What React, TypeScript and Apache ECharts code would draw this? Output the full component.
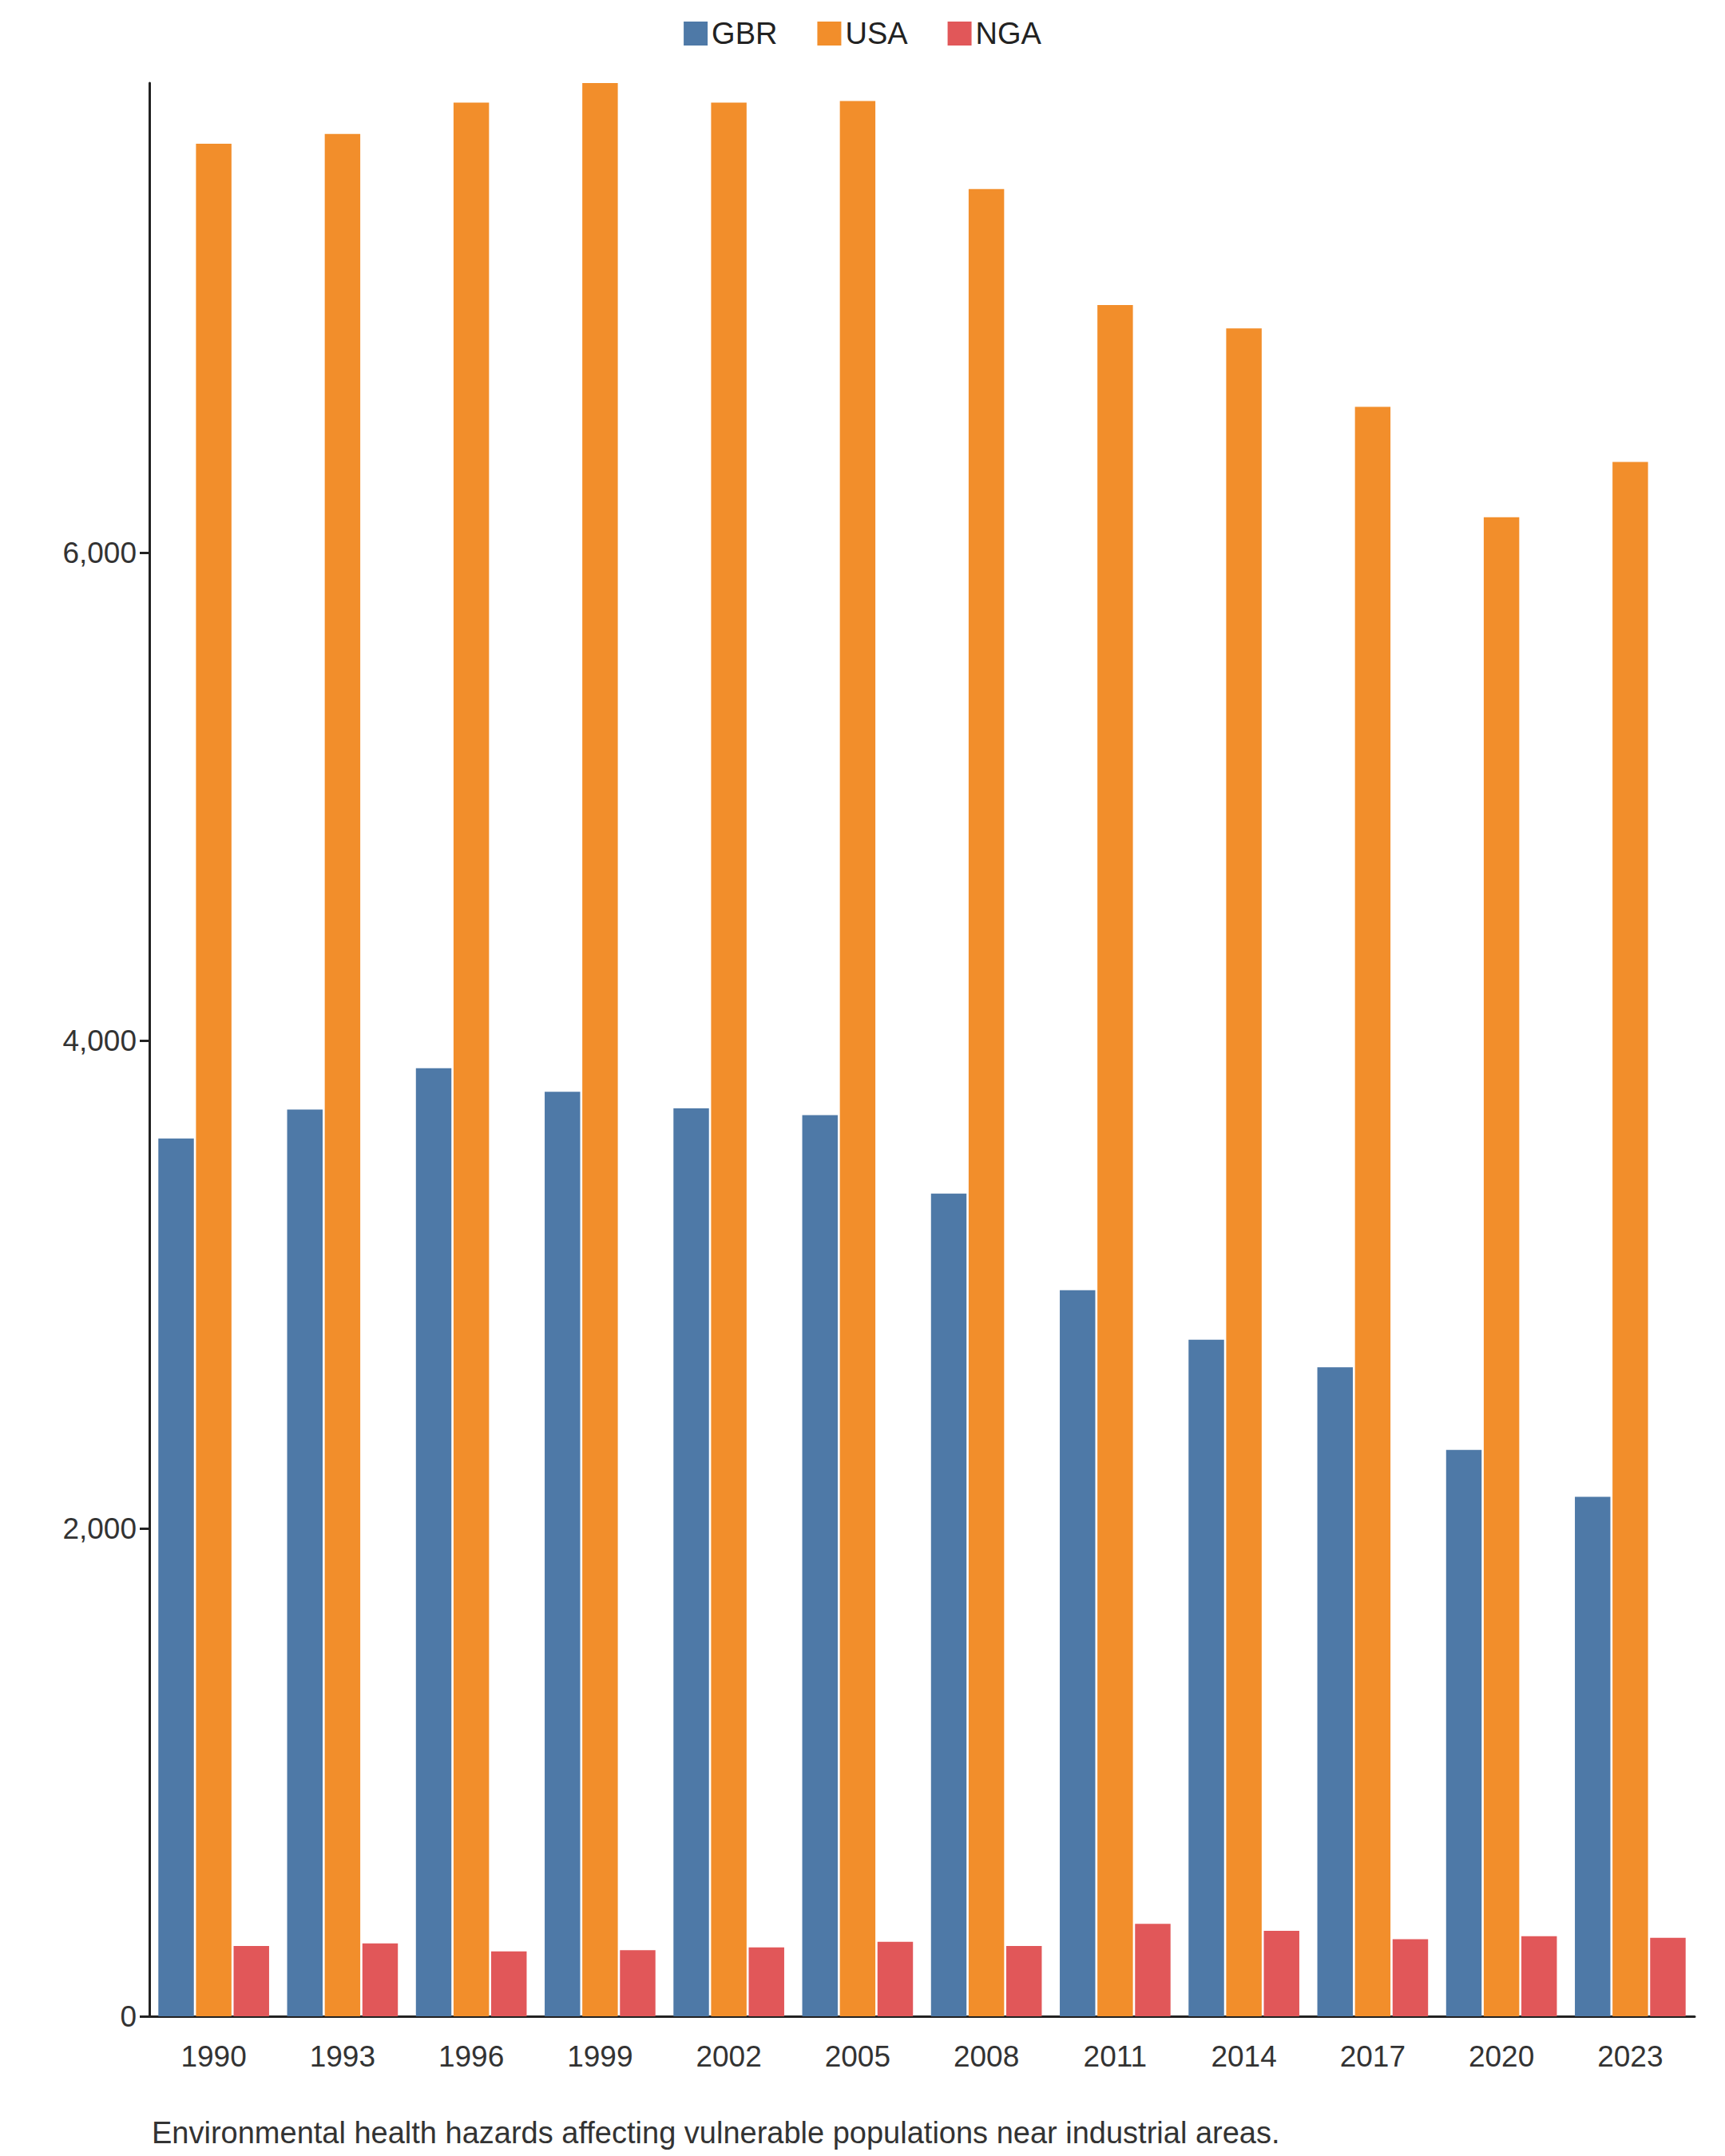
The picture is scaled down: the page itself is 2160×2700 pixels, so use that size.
import React, { useEffect, useRef } from "react";
import * as echarts from "echarts";

const years = ["1990", "1993", "1996", "1999", "2002", "2005", "2008", "2011", "2014", "2017", "2020", "2023"];
const gbr = [3599, 3718, 3887, 3791, 3723, 3695, 3373, 2977, 2774, 2661, 2322, 2130];
const usa = [7678, 7718, 7847, 7927, 7847, 7853, 7492, 7017, 6921, 6599, 6147, 6373];
const nga = [288, 299, 266, 271, 282, 305, 288, 379, 350, 316, 328, 322];
const caption = "Environmental health hazards affecting vulnerable populations near industrial areas.";

const font = "Liberation Sans, Arial, sans-serif";

const App: React.FC = () => {
  const chartRef = useRef<HTMLDivElement>(null);

  useEffect(() => {
    document.body.style.margin = "0";
    if (!chartRef.current) return;
    const chart = echarts.init(chartRef.current, undefined, { renderer: "svg" });

    const bar = (name: string, data: number[], color: string) => ({
      name,
      type: "bar" as const,
      data,
      itemStyle: { color },
      barGap: "6%",
      barCategoryGap: "14%",
    });

    chart.setOption({
      animation: false,
      textStyle: { fontFamily: font },
      legend: {
        top: 18,
        left: "center",
        icon: "rect",
        itemWidth: 30,
        itemHeight: 30,
        itemGap: 50,
        textStyle: { fontSize: 38, color: "#222", fontFamily: font },
        data: ["GBR", "USA", "NGA"],
      },
      grid: { left: 187, right: 38, top: 104, bottom: 175 },
      xAxis: {
        type: "category",
        data: years,
        axisLine: { lineStyle: { color: "#222", width: 3 } },
        axisTick: { length: 18, lineStyle: { color: "#222", width: 3 } },
        axisLabel: { fontSize: 37, color: "#333", margin: 32 },
      },
      yAxis: {
        type: "value",
        min: 0,
        max: 7927,
        interval: 2000,
        splitLine: { show: false },
        axisLine: { show: true, lineStyle: { color: "#222", width: 3 } },
        axisTick: { show: true, length: 12, lineStyle: { color: "#222", width: 3 } },
        axisLabel: { fontSize: 37, color: "#333", showMaxLabel: false, margin: 16 },
      },
      graphic: [
        {
          type: "text",
          left: 190,
          top: 2652,
          style: { text: caption, fontSize: 38, fill: "#333", fontFamily: font },
        },
      ],
      series: [bar("GBR", gbr, "#4e79a7"), bar("USA", usa, "#f28e2b"), bar("NGA", nga, "#e15759")],
    });

    return () => chart.dispose();
  }, []);

  return <div ref={chartRef} style={{ width: 2160, height: 2700 }} />;
};

export default App;
